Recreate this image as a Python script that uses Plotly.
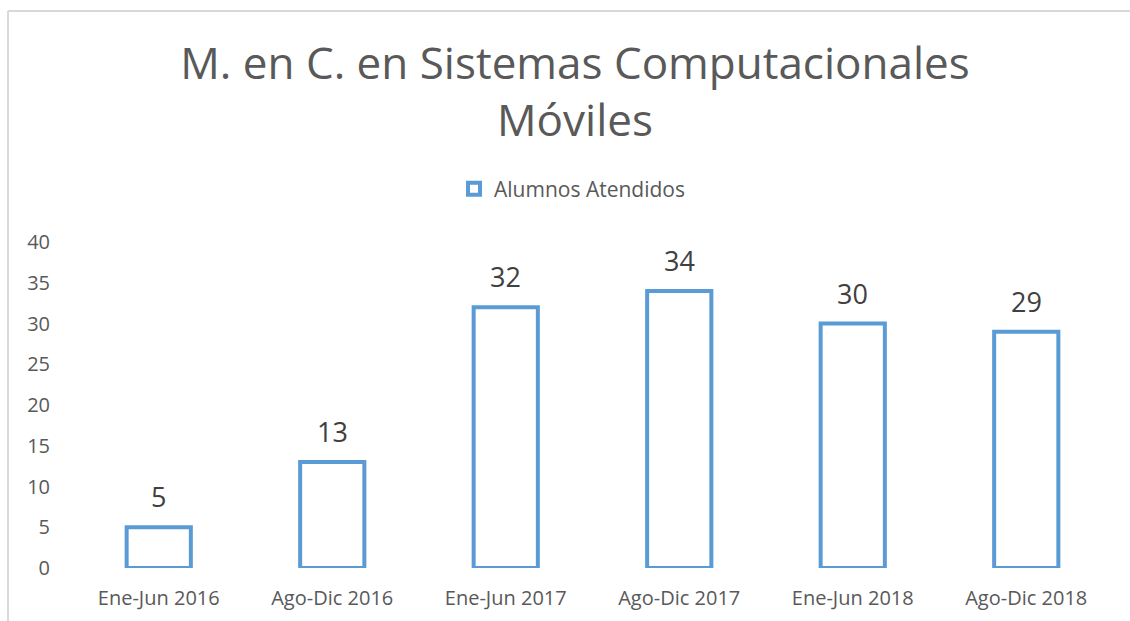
import plotly.graph_objects as go

categories = ["Ene-Jun 2016", "Ago-Dic 2016", "Ene-Jun 2017", "Ago-Dic 2017", "Ene-Jun 2018", "Ago-Dic 2018"]
values = [5, 13, 32, 34, 30, 29]
series_name = "Alumnos Atendidos"
title_text = "M. en C. en Sistemas Computacionales<br>Móviles"
y_ticks = [0, 5, 10, 15, 20, 25, 30, 35, 40]

W, H = 1130, 621
L, R, T, B = 72, 17, 242, 53
FONT = "Open Sans"
BLUE = "#5B9BD5"

fig = go.Figure()
fig.add_trace(go.Bar(
    x=categories, y=values, name=series_name,
    marker=dict(color="white", line=dict(color=BLUE, width=4)),
    width=0.37, showlegend=True,
))

for c, v in zip(categories, values):
    fig.add_annotation(x=c, y=v, text=str(v), showarrow=False, yanchor="bottom",
                       yshift=10, font=dict(family=FONT, size=27, color="#404040"))

pw = W - L - R
ph = H - T - B
def px(x):
    return (x - L) / pw
def py(y):
    return (H - B - y) / ph

line = dict(color="#D9D9D9", width=2)
fig.add_shape(type="line", xref="paper", yref="paper", x0=px(8), x1=px(W + 5), y0=py(11), y1=py(11), line=line)
fig.add_shape(type="line", xref="paper", yref="paper", x0=px(8), x1=px(8), y0=py(11), y1=py(H + 5), line=line)

fig.update_layout(
    width=W, height=H,
    margin=dict(l=L, r=R, t=T, b=B, autoexpand=False),
    paper_bgcolor="white", plot_bgcolor="white",
    title=dict(text=title_text, x=575 / W, xref="container", xanchor="center", y=1 - 79 / H, yanchor="middle",
               font=dict(family=FONT, size=44, color="#595959")),
    legend=dict(orientation="h", x=px(572), xanchor="center", y=py(189), yanchor="middle",
                font=dict(family=FONT, size=21, color="#595959"), itemwidth=30),
    xaxis=dict(showgrid=False, showline=False, ticks="", zeroline=False, ticklabelstandoff=16,
               tickangle=0, automargin=False,
               tickfont=dict(family=FONT, size=20, color="#595959")),
    yaxis=dict(range=[0, 40], tickvals=y_ticks, showgrid=False, showline=False, zeroline=False,
               ticks="", ticklabelstandoff=21, automargin=False,
               tickfont=dict(family=FONT, size=20, color="#595959")),
    showlegend=True,
)

fig.write_html("out.html", post_script="document.body.style.margin='0';",
               config={"displayModeBar": False})
